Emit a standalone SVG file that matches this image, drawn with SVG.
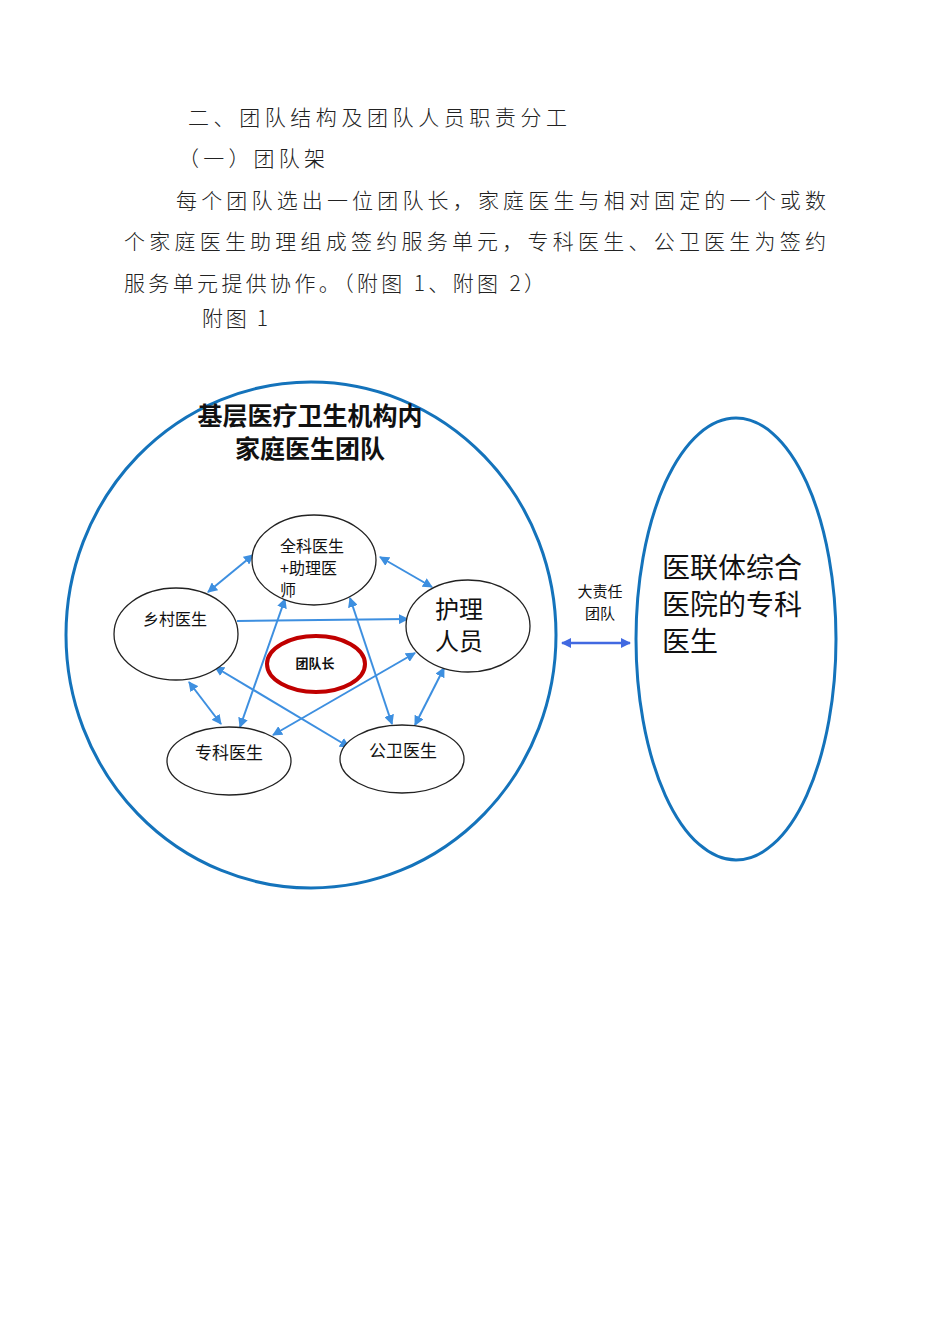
<svg xmlns="http://www.w3.org/2000/svg" width="950" height="1344" viewBox="0 0 950 1344">
<defs>
<marker id="ah" viewBox="0 0 10 10" refX="9" refY="5" markerWidth="10" markerHeight="10" markerUnits="userSpaceOnUse" orient="auto-start-reverse">
<path d="M0,0 L10,5 L0,10 z" fill="#3d8fe0"/>
</marker>
<marker id="ah2" viewBox="0 0 10 10" refX="9" refY="5" markerWidth="10" markerHeight="10" markerUnits="userSpaceOnUse" orient="auto-start-reverse">
<path d="M0,0 L10,5 L0,10 z" fill="#4169e1"/>
</marker>
</defs>
<style>
.body{font-family:"Noto Sans CJK SC","Noto Sans",sans-serif;font-size:21px;fill:#222;font-weight:300}
.node{fill:#fff;stroke:#222;stroke-width:1.3}
.big{fill:none;stroke:#1473bb;stroke-width:3}
.t{font-family:"Noto Sans CJK SC","Noto Sans",sans-serif;fill:#111}
.conn line{stroke:#3d8fe0;stroke-width:2;marker-end:url(#ah);marker-start:url(#ah)}
</style>
<rect width="950" height="1344" fill="#fff"/>

<g id="paragraph">
<text class="body" x="188" y="125" textLength="379" lengthAdjust="spacing">二、团队结构及团队人员职责分工</text>
<text class="body" x="178" y="166" textLength="147" lengthAdjust="spacing">（一）团队架</text>
<text class="body" x="176" y="208" textLength="650" lengthAdjust="spacing">每个团队选出一位团队长，家庭医生与相对固定的一个或数</text>
<text class="body" x="124" y="249" textLength="702" lengthAdjust="spacing">个家庭医生助理组成签约服务单元，专科医生、公卫医生为签约</text>
<text class="body" x="124" y="291" textLength="421" lengthAdjust="spacing">服务单元提供协作。（附图 1、附图 2）</text>
<text class="body" x="202" y="326" textLength="66" lengthAdjust="spacing">附图 1</text>
</g>

<g id="outer-team">
<ellipse class="big" cx="311" cy="635" rx="245" ry="253"/>
<text class="t" x="310" y="425" font-size="25" font-weight="bold" text-anchor="middle">基层医疗卫生机构内</text>
<text class="t" x="310" y="458" font-size="25" font-weight="bold" text-anchor="middle">家庭医生团队</text>
</g>

<g id="hospital">
<ellipse class="big" cx="736" cy="639" rx="100" ry="221"/>
<text class="t" x="662" y="578" font-size="28">医联体综合</text>
<text class="t" x="662" y="615" font-size="28">医院的专科</text>
<text class="t" x="662" y="652" font-size="28">医生</text>
</g>

<g id="link-label">
<text class="t" x="600" y="597" font-size="15" text-anchor="middle">大责任</text>
<text class="t" x="600" y="619" font-size="15" text-anchor="middle">团队</text>
</g>

<g id="connectors" class="conn">
<line x1="253" y1="555" x2="208" y2="592"/>
<line x1="380" y1="557" x2="432" y2="587"/>
<line x1="237" y1="621" x2="408" y2="619" style="marker-start:none"/>
<line x1="285" y1="599" x2="240" y2="727"/>
<line x1="350" y1="598" x2="392" y2="724"/>
<line x1="215" y1="667" x2="349" y2="747"/>
<line x1="415" y1="653" x2="273" y2="735"/>
<line x1="189" y1="682" x2="221" y2="724"/>
<line x1="444" y1="668" x2="415" y2="725"/>
<line x1="562" y1="643" x2="630" y2="643" style="stroke:#4169e1;stroke-width:2.5;marker-start:url(#ah2);marker-end:url(#ah2)"/>
</g>

<g id="gp">
<ellipse class="node" cx="314" cy="560" rx="62" ry="45" fill="none"/>
<text class="t" x="280" y="552" font-size="16">全科医生</text>
<text class="t" x="280" y="574" font-size="16">+助理医</text>
<text class="t" x="280" y="596" font-size="16">师</text>
</g>
<g id="village">
<ellipse class="node" cx="176" cy="634" rx="62" ry="46" fill="none"/>
<text class="t" x="143" y="625" font-size="16">乡村医生</text>
</g>
<g id="nurse">
<ellipse class="node" cx="468" cy="626" rx="62" ry="46" fill="none"/>
<text class="t" x="435" y="618" font-size="24">护理</text>
<text class="t" x="435" y="650" font-size="24">人员</text>
</g>
<g id="specialist">
<ellipse class="node" cx="229" cy="761" rx="62" ry="34" fill="none"/>
<text class="t" x="195" y="759" font-size="17">专科医生</text>
</g>
<g id="public">
<ellipse class="node" cx="402" cy="759" rx="62" ry="34" fill="none"/>
<text class="t" x="369" y="757" font-size="17">公卫医生</text>
</g>
<g id="leader">
<ellipse cx="316" cy="664" rx="49" ry="28" fill="#fff" stroke="#c00000" stroke-width="4"/>
<text class="t" x="315" y="668" font-size="13" font-weight="bold" text-anchor="middle">团队长</text>
</g>
</svg>
